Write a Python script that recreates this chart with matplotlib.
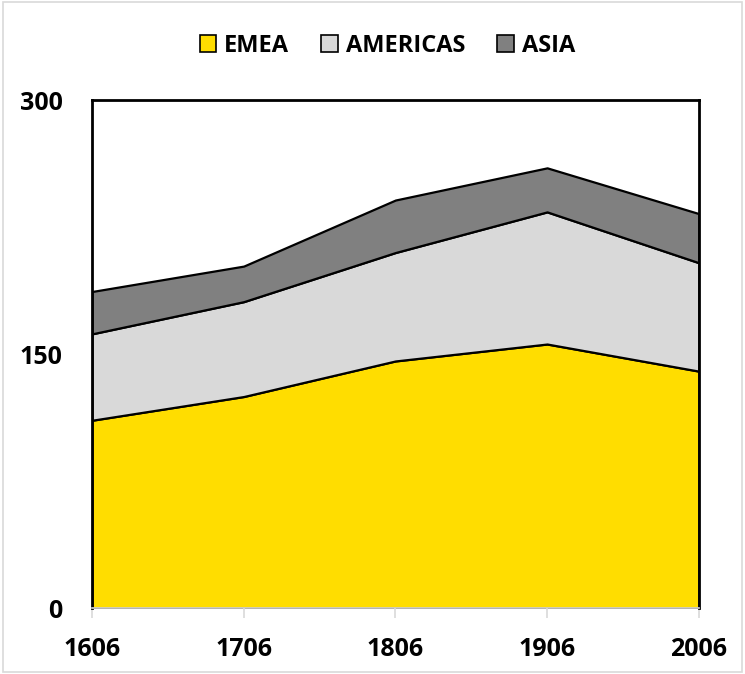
import matplotlib.pyplot as plt
from matplotlib.font_manager import FontProperties
from matplotlib.patches import Patch, Rectangle

plt.rcParams["font.family"] = ["Open Sans", "DejaVu Sans"]
plt.rcParams["font.weight"] = "bold"

years = ["1606", "1706", "1806", "1906", "2006"]
emea = [111, 125, 146, 156, 140]
americas = [51, 56, 64, 78, 64]
asia = [25, 21, 31, 26, 29]
y_ticks = [0, 150, 300]

series_names = ["EMEA", "AMERICAS", "ASIA"]
colors = ["#FFDD00", "#D9D9D9", "#808080"]

tick_font = FontProperties(family=["Open Sans", "DejaVu Sans"], weight="bold", size=18)
legend_font = FontProperties(family=["Open Sans", "DejaVu Sans"], weight="bold", size=17)

fig = plt.figure(figsize=(7.45, 6.74), dpi=100)
ax = fig.add_axes([0.1235, 0.0975, 0.8145, 0.754])

x = list(range(len(years)))
ax.stackplot(x, emea, americas, asia, colors=colors,
             edgecolor="black", linewidth=1.6)

ax.set_xlim(0, len(years) - 1)
ax.set_ylim(0, 300)
ax.set_yticks(y_ticks)
ax.set_yticklabels([str(v) for v in y_ticks], fontproperties=tick_font)
ax.set_xticks(x)
ax.set_xticklabels(years, fontproperties=tick_font)

for side in ("left", "top", "right"):
    ax.spines[side].set_color("black")
    ax.spines[side].set_linewidth(2.0)
ax.spines["bottom"].set_color("#D9D9D9")
ax.spines["bottom"].set_linewidth(1.2)

ax.tick_params(axis="x", direction="out", length=7, width=1.2, color="#D9D9D9", pad=14)
ax.tick_params(axis="y", length=0, pad=21)

handles = [Patch(facecolor=c, edgecolor="black", linewidth=1.2) for c in colors]
fig.legend(handles, series_names, loc="center", bbox_to_anchor=(0.52, 0.932),
           ncol=3, frameon=False, prop=legend_font,
           handlelength=0.7, handleheight=0.7, handletextpad=0.35,
           columnspacing=1.35)

# thin outer border around the whole figure
fig.patches.append(Rectangle((0.004, 0.003), 0.992, 0.994, transform=fig.transFigure,
                             fill=False, edgecolor="#D9D9D9", linewidth=1.2))

fig.savefig("out.png", dpi=100)
